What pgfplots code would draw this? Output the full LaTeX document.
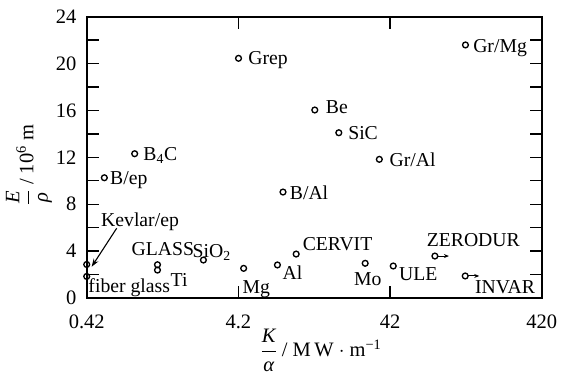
\documentclass[border=0pt]{standalone}
\usepackage{fontspec}
\setmainfont{Liberation Serif}
\usepackage{pgfplots}
\pgfplotsset{compat=1.18}
\usetikzlibrary{arrows.meta}
\tikzset{lab/.style={anchor=base west, inner sep=0pt, font=\fontsize{19.7bp}{22bp}\selectfont}}
\begin{document}
\begin{tikzpicture}
\begin{axis}[
  scale only axis, width=455bp, height=281.3bp,
  xmode=log, xmin=0.42, xmax=420, ymin=0, ymax=24,
  xtick={0.42,4.2,42,420}, xticklabels={0.42,4.2,42,420},
  xminorticks=false,
  ytick={0,4,...,24}, minor ytick={2,6,...,22},
  tick align=inside, major tick length=12bp, minor tick length=12bp,
  tick style={line width=1.3bp, black},
  axis line style={line width=1.7bp},
  clip=false,
  /pgf/number format/assume math mode=true,
  ticklabel style={font=\fontsize{20.5bp}{24bp}\selectfont},
  xticklabel style={anchor=base, inner sep=0pt, yshift=-30bp},
  yticklabel style={anchor=east, inner sep=0pt, xshift=-10bp},
]
\addplot[only marks, mark=o, mark size=2.9bp, mark options={line width=1.35bp}] coordinates {
 (4.21,20.45) (0.87,12.31) (0.549,10.26) (132,21.59) (13.4,16.04) (19.3,14.1)
 (35.7,11.83) (8.27,9.04) (10.1,3.75) (7.6,2.82) (28.8,2.96) (44.1,2.73)
 (83,3.58) (131.5,1.88) (4.55,2.53) (2.47,3.24) (1.23,2.84) (1.23,2.38)
 (0.42,2.86) (0.42,1.84)
};
\node[lab, xshift=9.6bp, yshift=-5.7bp] at (axis cs:4.21,20.45) {Grep};
\node[lab, xshift=8.6bp, yshift=-6.3bp] at (axis cs:0.87,12.31) {B\textsubscript{4}C};
\node[lab, xshift=5.7bp, yshift=-7bp] at (axis cs:0.549,10.26) {B/ep};
\node[lab, xshift=7.6bp, yshift=-7.5bp] at (axis cs:132,21.59) {Gr/Mg};
\node[lab, xshift=11bp, yshift=-3.3bp] at (axis cs:13.4,16.04) {Be};
\node[lab, xshift=9.3bp, yshift=-6.6bp] at (axis cs:19.3,14.1) {SiC};
\node[lab, xshift=10bp, yshift=-6.7bp] at (axis cs:35.7,11.83) {Gr/Al};
\node[lab, xshift=6.7bp, yshift=-7bp] at (axis cs:8.27,9.04) {B/Al};
\node[lab, xshift=6.4bp, yshift=4bp] at (axis cs:10.1,3.75) {CERVIT};
\node[lab, xshift=5bp, yshift=-15bp] at (axis cs:7.6,2.82) {Al};
\node[lab, anchor=base, xshift=2.7bp, yshift=-21.7bp] at (axis cs:28.8,2.96) {Mo};
\node[lab, xshift=5.7bp, yshift=-14bp] at (axis cs:44.1,2.73) {ULE};
\node[lab, xshift=-8.3bp, yshift=9.3bp] at (axis cs:83,3.58) {ZERODUR};
\node[lab, xshift=9.7bp, yshift=-17.3bp] at (axis cs:131.5,1.88) {INVAR};
\node[lab, xshift=-1.3bp, yshift=-25bp] at (axis cs:4.55,2.53) {Mg};
\node[lab, xshift=-11bp, yshift=2.3bp] at (axis cs:2.47,3.24) {SiO\textsubscript{2}};
\node[lab, xshift=-26bp, yshift=9bp] at (axis cs:1.23,2.84) {GLASS};
\node[lab, xshift=13bp, yshift=-16bp] at (axis cs:1.23,2.38) {Ti};
\node[lab, xshift=1.6bp, yshift=-16.5bp] at (axis cs:0.42,1.84) {fiber glass};
\node[lab, xshift=14.3bp, yshift=37.5bp] at (axis cs:0.42,2.86) {Kevlar/ep};
\draw[-{Stealth[length=8bp,width=5.5bp]}, line width=1.1bp] (axis cs:0.662,5.95) -- (axis cs:0.453,2.67);
\draw[-{Stealth[length=5bp,width=4bp]}, line width=1bp] ([xshift=3bp]axis cs:83,3.58) -- ([xshift=14bp]axis cs:83,3.58);
\draw[-{Stealth[length=5bp,width=4bp]}, line width=1bp] ([xshift=3bp]axis cs:131.5,1.88) -- ([xshift=14bp]axis cs:131.5,1.88);
\node[anchor=center, font=\fontsize{20.5bp}{23bp}\selectfont] at (axis description cs:0.515,-0.186)
  {$\displaystyle\frac{\textit{K}}{\textit{α}}$ / M\,W $\cdot$ m\textsuperscript{−1}};
\node[anchor=center, rotate=90, font=\fontsize{20.5bp}{23bp}\selectfont] at (axis description cs:-0.1268,0.473)
  {$\displaystyle\frac{\textit{E}}{\textit{ρ}}$ / 10\textsuperscript{6} m};
\end{axis}
\pgfresetboundingbox
\path ([xshift=-86.7bp,yshift=-76bp]current axis.south west) rectangle ([xshift=20.3bp,yshift=16.7bp]current axis.north east);
\end{tikzpicture}
\end{document}
